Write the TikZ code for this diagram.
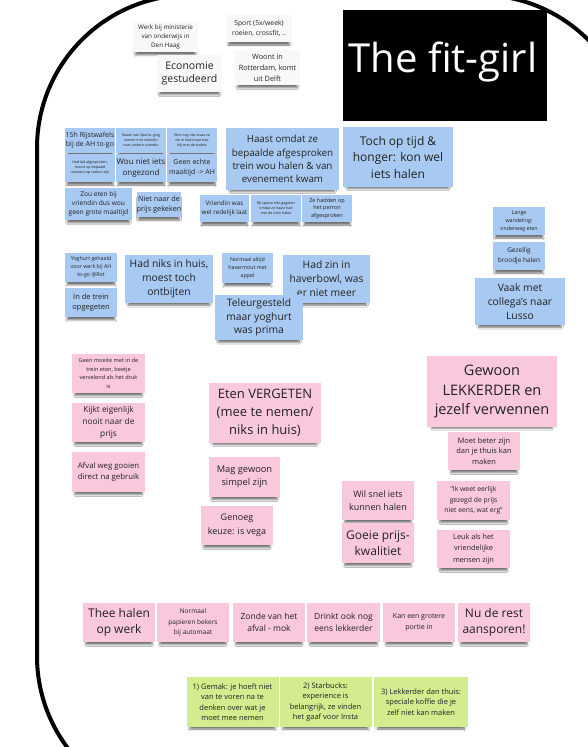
\documentclass[tikz,border=0pt]{standalone}
\usepackage{fontspec}
\setmainfont{Open Sans}
\usetikzlibrary{shadows.blur}

\definecolor{noteblue}{RGB}{168,201,242}
\definecolor{notepink}{RGB}{250,200,221}
\definecolor{notegreen}{RGB}{211,236,142}
\definecolor{notegrey}{RGB}{248,248,248}
\definecolor{inkgrey}{RGB}{34,34,34}

\tikzset{
  note/.style={inner sep=0pt, align=center, text=inkgrey,
    blur shadow={shadow xshift=0pt, shadow yshift=-4.5pt, shadow scale=0.92,
      shadow blur radius=2pt, shadow blur steps=6, shadow opacity=55}},
  blue/.style={note, fill=noteblue},
  pink/.style={note, fill=notepink},
  green/.style={note, fill=notegreen},
  grey/.style={note, fill=notegrey},
  wh/.style 2 args={minimum width=#1pt, minimum height=#2pt},
  fs/.style 2 args={font=\fontsize{#1}{#2}\selectfont},
}

\begin{document}
\begin{tikzpicture}[x=1pt,y=-1pt]
\useasboundingbox (0,0) rectangle (587,747);
\fill[white] (0,0) rectangle (587,747);

% outer frame
\draw[line width=4pt, rounded corners=153pt] (37,-5) rectangle (633,809);

% profile notes
\node[grey, wh={65}{30}, fs={6.3}{8.8}] (werk) at (165.5,37) {Werk bij ministerie\\van onderwijs in\\Den Haag};
\node[grey, wh={65}{37}, fs={10.5}{13.5}] (econ) at (189.5,73.5) {Economie\\gestudeerd};
\node[grey, wh={66}{27}, fs={6.8}{9.8}] (sport) at (259,28.5) {Sport (5x/week)\\roeien, crossfit, ..};
\node[grey, wh={65}{35}, fs={7.3}{11}] (woont) at (267.5,67.5) {Woont in\\Rotterdam, komt\\uit Delft};

% title
\node[fill=black, wh={204}{111}, inner sep=0pt] (titlebox) at (445,65.5) {};
\node[text=white, font=\fontsize{40}{46}\selectfont, inner sep=0pt] (title) at (443,62) {The fit-girl};

% blue cluster: rice waffles
\node[blue, wh={50}{25}, fs={7}{9.3}] (b1) at (90,140.5) {15h Rijstwafels\\bij de AH to-go};
\node[blue, wh={50}{25}, fs={3.6}{5}] (b2) at (141,140.5) {Kwam van Sparta, ging\\samen met vriendin\\naar andere vriendin};
\node[blue, wh={50}{25}, fs={3.6}{5}] (b3) at (192,140.5) {Wist nog niet waar ze\\zin in had maar was\\blij met de wafels};
\node[blue, wh={50}{28}, fs={3.6}{5}] (b4) at (90,168) {Had tijd afgesproken,\\moest op bepaald\\moment op station zijn};
\node[blue, wh={50}{28}, fs={8}{10.3}] (b5) at (141,168) {Wou niet iets\\ongezond};
\node[blue, wh={50}{28}, fs={7}{10}] (b6) at (192,168) {Geen echte\\maaltijd -> AH};
\node[blue, wh={67}{32}, fs={6.6}{8.8}] (b7) at (98.5,204) {Zou eten bij\\vriendin dus wou\\geen grote maaltijd};
\node[blue, wh={42}{25}, fs={7.3}{9.7}] (b8) at (159,204.5) {Niet naar de\\prijs gekeken};
\node[blue, wh={49}{27}, fs={6.3}{9}] (b9) at (224.5,208.5) {Vriendin was\\wel redelijk laat};
\node[blue, wh={50}{27}, fs={3.6}{5}] (b10) at (276,208.5) {Bij sparta niks gegeten\\omdat ze haast had\\met de trein halen};
\node[blue, wh={50}{27}, fs={5.5}{7.5}] (b11) at (327,208.5) {Ze hadden op\\het perron\\afgesproken};
\node[blue, wh={113}{62}, fs={9.8}{13.3}] (b12) at (282.5,159) {Haast omdat ze\\bepaalde afgesproken\\trein wou halen \& van\\evenement kwam};
\node[blue, wh={110}{60}, fs={12}{16.5}] (b13) at (398,157) {Toch op tijd \&\\honger: kon wel\\iets halen};

% blue cluster: yoghurt
\node[blue, wh={52}{29}, fs={5.3}{8}] (b14) at (91,267.5) {Yoghurt gehaald\\voor werk bij AH\\to-go @Rot};
\node[blue, wh={52}{29}, fs={7.5}{10}] (b15) at (91,302.5) {In de trein\\opgegeten};
\node[blue, wh={88}{48}, fs={10.3}{14}] (b16) at (169,279) {Had niks in huis,\\moest toch\\ontbijten};
\node[blue, wh={51}{30}, fs={5.3}{8}] (b17) at (247.5,268) {Normaal altijd\\havermout met\\appel};
\node[blue, wh={87}{48}, fs={10.3}{14}] (b18) at (326.5,279) {Had zin in\\haverbowl, was\\er niet meer};
\node[blue, wh={88}{45}, fs={10.3}{13.7}] (b19) at (259,317.5) {Teleurgesteld\\maar yoghurt\\was prima};

% blue cluster: lunch
\node[blue, wh={52}{28}, fs={5.3}{7.8}] (b20) at (519,221) {Lange\\wandeling:\\onderweg eten};
\node[blue, wh={52}{28}, fs={6.5}{10}] (b21) at (519,256) {Gezellig\\broodje halen};
\node[blue, wh={90}{47}, fs={10.3}{14}] (b22) at (520,301.5) {Vaak met\\collega's naar\\Lusso};

% pink notes
\node[pink, wh={73}{39}, fs={5.6}{8.6}] (p1) at (108.5,373.5) {Geen moeite met in de\\trein eten, beetje\\vervelend als het druk\\is};
\node[pink, wh={73}{39}, fs={8.3}{11.7}] (p2) at (108.5,422.5) {Kijkt eigenlijk\\nooit naar de\\prijs};
\node[pink, wh={73}{40}, fs={7.8}{10.7}] (p3) at (108.5,472) {Afval weg gooien\\direct na gebruik};
\node[pink, wh={112}{60}, fs={13}{18}] (p4) at (265,413) {Eten VERGETEN\\(mee te nemen/\\niks in huis)};
\node[pink, wh={71}{40}, fs={9.3}{13.3}] (p5) at (244.5,477) {Mag gewoon\\simpel zijn};
\node[pink, wh={72}{39}, fs={9}{14}] (p6) at (237,525.5) {Genoeg\\keuze: is vega};
\node[pink, wh={130}{71}, fs={14.5}{19.7}] (p7) at (492,391.5) {Gewoon\\LEKKERDER en\\jezelf verwennen};
\node[pink, wh={72}{38}, fs={7.5}{10.7}] (p8) at (484,451) {Moet beter zijn\\dan je thuis kan\\maken};
\node[pink, wh={72}{39}, fs={9}{12.3}] (p9) at (378,500.5) {Wil snel iets\\kunnen halen};
\node[pink, wh={72}{40}, fs={12}{16.7}] (p10) at (378,543) {Goeie prijs-\\kwalitiet};
\node[pink, wh={73}{39}, fs={6.8}{10.5}] (p11) at (473.5,500.5) {"Ik weet eerlijk\\gezegd de prijs\\niet eens, wat erg"};
\node[pink, wh={73}{38}, fs={7.3}{11.3}] (p12) at (473.5,549) {Leuk als het\\vriendelijke\\mensen zijn};

% tea row
\node[pink, wh={72}{39}, fs={12}{16.7}] (q1) at (119,622.5) {Thee halen\\op werk};
\node[pink, wh={72}{39}, fs={6.5}{10.8}] (q2) at (193,622.5) {Normaal\\papieren bekers\\bij automaat};
\node[pink, wh={72}{39}, fs={8.5}{11.7}] (q3) at (269,622.5) {Zonde van het\\afval - mok};
\node[pink, wh={73}{39}, fs={8.5}{11.7}] (q4) at (343.5,622.5) {Drinkt ook nog\\eens lekkerder};
\node[pink, wh={72}{39}, fs={7}{10.7}] (q5) at (419,622.5) {Kan een grotere\\portie in};
\node[pink, wh={72}{39}, fs={12}{16.7}] (q6) at (494,622.5) {Nu de rest\\aansporen!};

% conclusions
\node[green, wh={92}{50}, fs={7.5}{10.5}] (e1) at (232.5,702) {1) Gemak: je hoeft niet\\van te voren na te\\denken over wat je\\moet mee nemen};
\node[green, wh={92}{50}, fs={7.5}{10.5}] (e2) at (325.5,702) {2) Starbucks:\\experience is\\belangrijk, ze vinden\\het gaaf voor Insta};
\node[green, wh={94}{50}, fs={7.5}{10.5}] (e3) at (421,702) {3) Lekkerder dan thuis:\\speciale koffie die je\\zelf niet kan maken};
\end{tikzpicture}
\end{document}
